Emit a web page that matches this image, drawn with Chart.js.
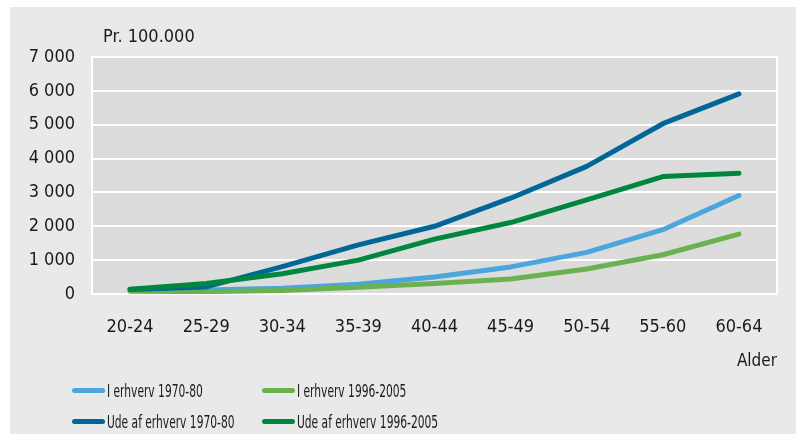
<!DOCTYPE html>
<html>
<head>
<meta charset="utf-8">
<script src="https://cdn.jsdelivr.net/npm/chart.js@4.4.1/dist/chart.umd.min.js"></script>
<style>
  body { margin: 0; background: #ffffff; width: 798px; height: 434px; overflow: hidden; position: relative; }
  #panel { position: absolute; left: 10px; top: 7px; width: 786px; height: 427px; background: #e9e9e9; }
  #chart { position: absolute; left: 0; top: 0; }
  .txt { position: absolute; font-family: 'DejaVu Sans Condensed', 'DejaVu Sans', sans-serif; font-size: 18px; color: #1a1a1a; line-height: 20px; white-space: nowrap; }
  .legend-item { position: absolute; height: 20px; }
  .swatch { position: absolute; left: 0; top: 7px; width: 33px; height: 5px; border-radius: 3px; }
  .legend-item span { position: absolute; left: 35px; top: 0; transform: scaleX(0.66); transform-origin: left center; }
</style>
</head>
<body>
<div id="panel">
  <canvas id="chart" width="786" height="427"></canvas>
  <div class="txt" id="unit" style="left:93px; top:19px;"></div>
  <div id="legend"></div>
</div>
<script>
// Age groups on the x axis
const ageGroups = ['20-24', '25-29', '30-34', '35-39', '40-44', '45-49', '50-54', '55-60', '60-64'];

// Rate per 100.000
const iErhverv7080 = [100, 120, 170, 290, 500, 800, 1230, 1900, 2910];
const iErhverv9605 = [80, 70, 100, 200, 310, 440, 740, 1160, 1770];
const udeAf7080 = [130, 210, 810, 1450, 2000, 2830, 3770, 5030, 5910];
const udeAf9605 = [140, 310, 600, 1000, 1620, 2110, 2780, 3470, 3570];

const seriesLabels = ['I erhverv 1970-80', 'I erhverv 1996-2005', 'Ude af erhverv 1970-80', 'Ude af erhverv 1996-2005'];
const seriesColors = ['#4ba6dd', '#6cb14f', '#006797', '#00873f'];

const yTicks = [0, 1000, 2000, 3000, 4000, 5000, 6000, 7000];
const unitLabel = 'Pr. 100.000';
const xTitle = 'Alder';

const fontFamily = "'DejaVu Sans Condensed', 'DejaVu Sans', sans-serif";

document.getElementById('unit').textContent = unitLabel;

// Plot background with white frame
const plotBg = {
    id: 'plotBg',
    beforeDraw(chart) {
        const a = chart.chartArea;
        const ctx = chart.ctx;
        ctx.save();
        ctx.fillStyle = '#dcdcdc';
        ctx.fillRect(a.left, a.top, a.right - a.left, a.bottom - a.top);
        ctx.strokeStyle = '#ffffff';
        ctx.lineWidth = 2;
        ctx.strokeRect(a.left, a.top, a.right - a.left, a.bottom - a.top);
        ctx.restore();
    }
};

const lineData = [iErhverv7080, iErhverv9605, udeAf7080, udeAf9605];
const drawOrder = [3, 2, 1, 0]; // dark lines on top

const chart = new Chart(document.getElementById('chart').getContext('2d'), {
    type: 'line',
    data: {
        labels: ageGroups,
        datasets: lineData.map((d, i) => ({
            label: seriesLabels[i],
            data: d,
            borderColor: seriesColors[i],
            backgroundColor: seriesColors[i],
            borderWidth: 5,
            borderCapStyle: 'round',
            borderJoinStyle: 'round',
            pointRadius: 0,
            tension: 0,
            order: drawOrder[i]
        }))
    },
    plugins: [plotBg],
    options: {
        responsive: false,
        animation: false,
        devicePixelRatio: 1,
        layout: { padding: { left: 0, top: 50, right: 19, bottom: 60 } },
        plugins: {
            legend: { display: false },
            tooltip: { enabled: false }
        },
        scales: {
            x: {
                offset: true,
                afterFit(scale) { scale.height = 80; },
                grid: { display: false, drawTicks: false },
                border: { display: false },
                ticks: {
                    padding: 23,
                    color: '#1a1a1a',
                    maxRotation: 0,
                    font: { family: fontFamily, size: 18 }
                },
                title: {
                    display: true,
                    text: xTitle,
                    align: 'end',
                    color: '#1a1a1a',
                    padding: { top: 0, bottom: 2 },
                    font: { family: fontFamily, size: 17 }
                }
            },
            y: {
                min: 0,
                max: 7000,
                afterFit(scale) { scale.width = 82; },
                afterBuildTicks(scale) { scale.ticks = yTicks.map(v => ({ value: v })); },
                grid: { color: '#ffffff', lineWidth: 2, drawTicks: false },
                border: { display: false },
                ticks: {
                    padding: 17,
                    color: '#1a1a1a',
                    font: { family: fontFamily, size: 18 },
                    callback: v => v.toString().replace(/\B(?=(\d{3})+(?!\d))/g, ' ')
                }
            }
        }
    }
});

// Legend in two columns
const legendPos = [[62, 374], [252, 374], [62, 405], [252, 405]];
const legend = document.getElementById('legend');
seriesLabels.forEach((lab, i) => {
    const item = document.createElement('div');
    item.className = 'legend-item txt';
    item.style.left = legendPos[i][0] + 'px';
    item.style.top = legendPos[i][1] + 'px';
    const sw = document.createElement('div');
    sw.className = 'swatch';
    sw.style.background = seriesColors[i];
    const t = document.createElement('span');
    t.textContent = lab;
    item.appendChild(sw);
    item.appendChild(t);
    legend.appendChild(item);
});
</script>
</body>
</html>
